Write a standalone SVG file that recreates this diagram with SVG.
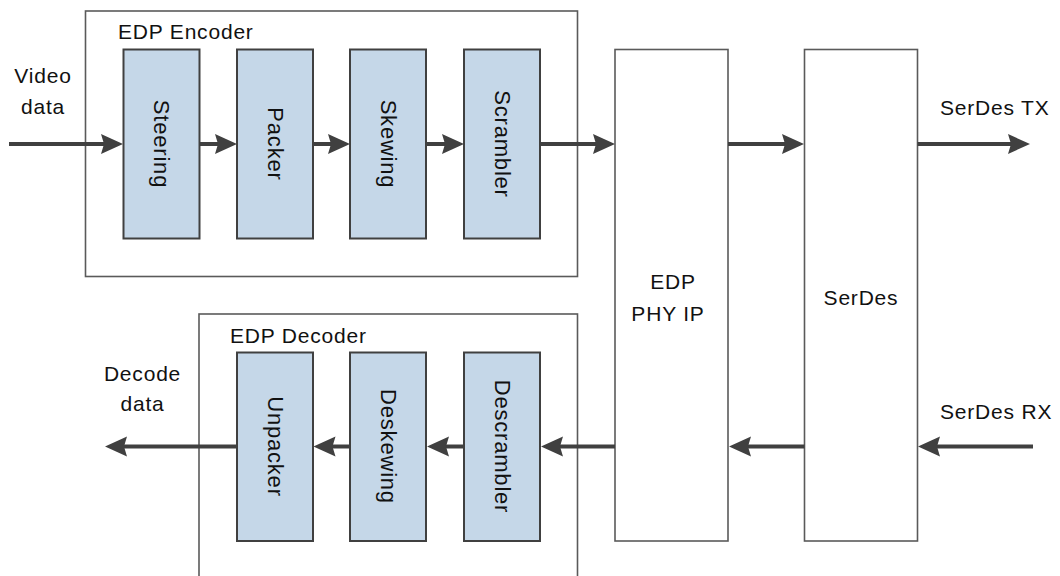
<svg xmlns="http://www.w3.org/2000/svg" width="1060" height="576" viewBox="0 0 1060 576">
<defs>
<style>
text{font-family:"Liberation Sans",Arial,sans-serif;font-size:21px;fill:#111;letter-spacing:0.8px}
.c{text-anchor:middle}
.r{font-size:22px}
.grp{fill:#fff;stroke:#5a5a5a;stroke-width:1.6}
.blk{fill:#c5d7e8;stroke:#404040;stroke-width:2}
.big{fill:#fff;stroke:#5a5a5a;stroke-width:1.6}
.ar{stroke:#404040;stroke-width:4;fill:none;marker-end:url(#ah)}
</style>
<marker id="ah" markerUnits="userSpaceOnUse" viewBox="0 0 22 22" refX="4" refY="11" markerWidth="22" markerHeight="22" orient="auto">
<path d="M0,1 L22,11 L0,21 L3,11 Z" fill="#404040"/>
</marker>
</defs>
<g id="encoder">
<rect class="grp" x="85.5" y="11" width="492" height="265.5"/>
<text x="118" y="38.5">EDP Encoder</text>
</g>
<g id="steering"><rect class="blk" x="123.5" y="49.5" width="76" height="189"/><text class="c r" transform="translate(161.5,144) rotate(90)" dy="7.5">Steering</text></g>
<g id="packer"><rect class="blk" x="237" y="49.5" width="76" height="189"/><text class="c r" transform="translate(275,144) rotate(90)" dy="7.5">Packer</text></g>
<g id="skewing"><rect class="blk" x="350" y="49.5" width="76" height="189"/><text class="c r" transform="translate(388,144) rotate(90)" dy="7.5">Skewing</text></g>
<g id="scrambler"><rect class="blk" x="464" y="49.5" width="76" height="189"/><text class="c r" transform="translate(502,144) rotate(90)" dy="7.5">Scrambler</text></g>
<g id="decoder">
<rect class="grp" x="199" y="314" width="378.5" height="280"/>
<text x="230" y="343">EDP Decoder</text>
</g>
<g id="unpacker"><rect class="blk" x="237" y="352.5" width="76" height="188.5"/><text class="c r" transform="translate(275,446.5) rotate(90)" dy="7.5">Unpacker</text></g>
<g id="deskewing"><rect class="blk" x="350" y="352.5" width="76" height="188.5"/><text class="c r" transform="translate(388,446.5) rotate(90)" dy="7.5">Deskewing</text></g>
<g id="descrambler"><rect class="blk" x="464" y="352.5" width="76" height="188.5"/><text class="c r" transform="translate(502,446.5) rotate(90)" dy="7.5">Descrambler</text></g>
<g id="phy"><rect class="big" x="615" y="49.5" width="113" height="491.5"/><text class="c" x="673" y="288.5">EDP</text><text class="c" x="668" y="321">PHY IP</text></g>
<g id="serdes"><rect class="big" x="804.5" y="49.5" width="113" height="491.5"/><text class="c" x="861" y="305">SerDes</text></g>
<g id="labels">
<text class="c" x="43" y="83">Video</text>
<text class="c" x="43" y="114">data</text>
<text class="c" x="142.5" y="381">Decode</text>
<text class="c" x="142.5" y="411">data</text>
<text x="940" y="115">SerDes TX</text>
<text x="940" y="419">SerDes RX</text>
</g>
<g id="connectors">
<line class="ar" x1="9" y1="144" x2="105" y2="144"/>
<line class="ar" x1="199.5" y1="144" x2="219" y2="144"/>
<line class="ar" x1="313" y1="144" x2="332" y2="144"/>
<line class="ar" x1="426" y1="144" x2="446" y2="144"/>
<line class="ar" x1="540" y1="144" x2="597" y2="144"/>
<line class="ar" x1="728" y1="144" x2="786" y2="144"/>
<line class="ar" x1="917.5" y1="144" x2="1012" y2="144"/>
<line class="ar" x1="1033" y1="446.5" x2="936" y2="446.5"/>
<line class="ar" x1="804.5" y1="446.5" x2="747" y2="446.5"/>
<line class="ar" x1="615" y1="446.5" x2="559" y2="446.5"/>
<line class="ar" x1="464" y1="446.5" x2="445" y2="446.5"/>
<line class="ar" x1="350" y1="446.5" x2="331.5" y2="446.5"/>
<line class="ar" x1="237" y1="446.5" x2="123" y2="446.5"/>
</g>
</svg>
